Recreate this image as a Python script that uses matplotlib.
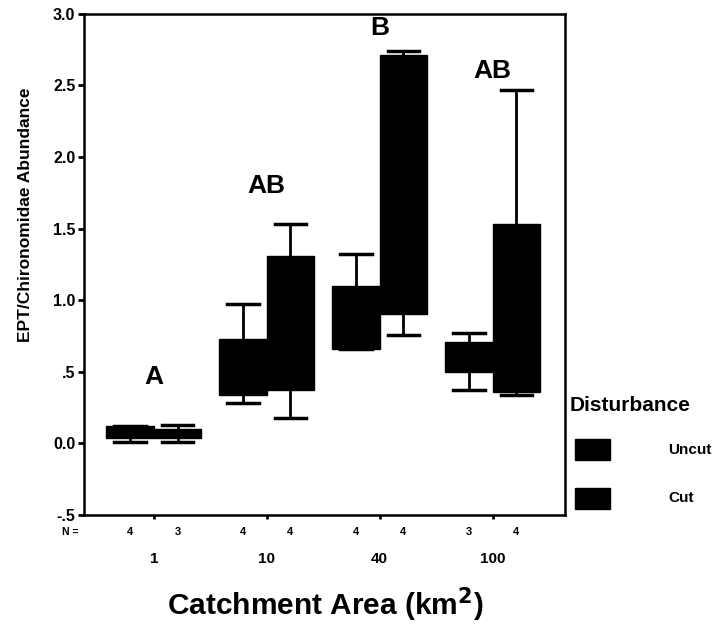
import matplotlib.pyplot as plt
from matplotlib.patches import Rectangle

plt.rcParams['font.family'] = ['Liberation Sans', 'DejaVu Sans']

areas = ['1', '10', '40', '100']
letters = ['A', 'AB', 'B', 'AB']
letter_y = [0.46, 1.80, 2.90, 2.60]

# box stats per catchment: (whisker low, q1, median, q3, whisker high)
uncut = [(0.01, 0.04, 0.08, 0.12, 0.12),
         (0.28, 0.34, 0.55, 0.73, 0.97),
         (0.66, 0.66, 0.90, 1.10, 1.32),
         (0.37, 0.50, 0.60, 0.71, 0.77)]
cut = [(0.01, 0.04, 0.07, 0.10, 0.13),
       (0.18, 0.37, 0.80, 1.31, 1.53),
       (0.76, 0.90, 1.80, 2.71, 2.74),
       (0.34, 0.36, 0.45, 1.53, 2.47)]
n_uncut = [4, 4, 4, 3]
n_cut = [3, 4, 4, 4]


def to_stats(rows):
    return [dict(whislo=r[0], q1=r[1], med=r[2], q3=r[3], whishi=r[4], fliers=[])
            for r in rows]


fig = plt.figure(figsize=(7.16, 6.31), dpi=100)
ax = fig.add_axes([0.117, 0.184, 0.672, 0.794])

cats = range(1, len(areas) + 1)
off = 0.21
w = 0.42
style = dict(
    patch_artist=True, showfliers=False, widths=w, capwidths=0.28,
    boxprops=dict(facecolor='black', edgecolor='black', linewidth=1),
    medianprops=dict(color='black', linewidth=1),
    whiskerprops=dict(color='black', linewidth=2),
    capprops=dict(color='black', linewidth=2.5),
)
ax.bxp(to_stats(uncut), positions=[c - off for c in cats], **style)
ax.bxp(to_stats(cut), positions=[c + off for c in cats], **style)

for c, lab, ly in zip(cats, letters, letter_y):
    ax.text(c, ly, lab, ha='center', va='center', fontsize=19, fontweight='bold')

ax.set_xlim(0.38, 4.64)
ax.set_ylim(-0.5, 3.0)
ax.set_yticks([-0.5, 0, 0.5, 1.0, 1.5, 2.0, 2.5, 3.0])
ax.set_yticklabels(['-.5', '0.0', '.5', '1.0', '1.5', '2.0', '2.5', '3.0'],
                   fontsize=11.5, fontweight='bold')
ax.set_xticks(list(cats))
ax.set_xticklabels([])
ax.tick_params(axis='y', direction='out', length=4, width=2, pad=2)
ax.tick_params(axis='x', direction='out', length=3, width=2)
for sp in ax.spines.values():
    sp.set_linewidth(1.8)

ax.set_ylabel('EPT/Chironomidae Abundance', fontsize=12.5, fontweight='bold')
ax.yaxis.set_label_coords(-0.105, 0.6)

# N counts and category names under the axis
tr = ax.get_xaxis_transform()
ax.text(0.33, -0.035, 'N =', transform=tr, ha='right', va='center',
        fontsize=7.5, fontweight='bold')
for c, nu, nc, lab in zip(cats, n_uncut, n_cut, areas):
    ax.text(c - off, -0.035, str(nu), transform=tr, ha='center', va='center',
            fontsize=8, fontweight='bold')
    ax.text(c + off, -0.035, str(nc), transform=tr, ha='center', va='center',
            fontsize=8, fontweight='bold')
    ax.text(c, -0.088, lab, transform=tr, ha='center', va='center',
            fontsize=11, fontweight='bold')

fig.text(0.454, 0.041, 'Catchment Area (km$^{\\mathbf{2}}$)', ha='center', va='center',
         fontsize=21.5, fontweight='bold')

# legend
fig.text(0.796, 0.358, 'Disturbance', ha='left', va='center', fontsize=15,
         fontweight='bold')
for yc, lab in [(0.287, 'Uncut'), (0.210, 'Cut')]:
    fig.patches.append(Rectangle((0.803, yc - 0.016), 0.049, 0.033,
                                 transform=fig.transFigure, color='black'))
    fig.text(0.933, yc, lab, ha='left', va='center', fontsize=11,
             fontweight='bold')

fig.savefig('out.png', dpi=100)
